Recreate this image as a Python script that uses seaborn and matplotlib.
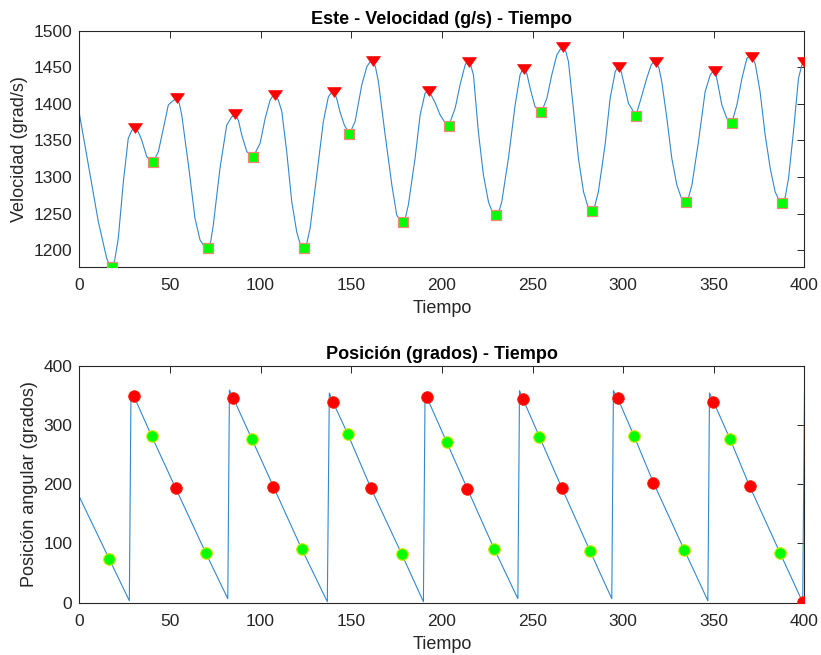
import numpy as np
import pandas as pd
import seaborn as sns
import matplotlib.pyplot as plt
from matplotlib.path import Path

# ---- angular velocity trace (time, grad/s) ----
vel_t = [0, 5.0, 10.5, 15.1, 16.5, 18.0, 19.5, 21.5, 24.3, 27.0, 29.0, 30.7, 32.5, 34.4, 37.2,
         40.7, 43.6, 46.4, 49.1, 51.5, 53.9, 55.2, 56.5, 60.2, 63.8, 66.6, 68.8, 71.0, 72.5,
         73.9, 77.6, 81.3, 84.0, 86.1, 87.8, 89.6, 92.4, 96.0, 99.7, 102.5, 105.2, 106.5,
         108.0, 109.8, 111.7, 114.4, 117.2, 119.9, 122.0, 124.0, 125.5, 127.3, 131.0, 134.6,
         137.4, 139.0, 140.7, 142.2, 143.8, 146.2, 149.0, 152.1, 155.8, 158.6, 160.3, 161.9,
         163.4, 165.0, 168.7, 172.4, 175.1, 177.0, 178.8, 180.0, 181.5, 185.2, 188.0, 190.7,
         192.8, 196.2, 199.0, 201.8, 203.8, 207.3, 210.0, 212.8, 213.8, 214.8, 216.0, 217.4,
         220.1, 222.9, 225.7, 228.0, 230.1, 231.5, 233.0, 236.7, 240.4, 243.1, 244.3, 245.5,
         247.0, 248.7, 251.4, 254.9, 257.9, 260.6, 263.4, 265.2, 266.9, 268.4, 269.8, 272.5,
         275.3, 278.1, 280.8, 282.0, 283.0, 284.5, 286.3, 290.0, 292.8, 295.6, 296.7, 297.8,
         299.0, 300.2, 302.9, 307.0, 309.3, 313.0, 315.4, 316.8, 318.2, 319.7, 321.3, 324.1,
         326.8, 329.6, 332.0, 334.5, 336.0, 337.9, 341.5, 345.2, 348.0, 349.4, 350.7, 352.0,
         354.4, 357.2, 359.9, 362.7, 365.5, 368.2, 369.6, 371.0, 372.8, 375.5, 378.3, 381.1,
         383.8, 386.0, 387.7, 389.4, 391.2, 393.9, 396.7, 398.5, 400.0]
vel_v = [1387, 1316.5, 1239, 1189, 1181, 1177.2, 1186, 1216.4, 1293.7, 1353, 1364, 1367, 1362,
         1350.7, 1327.9, 1320.2, 1334.7, 1366.7, 1398.5, 1404, 1407.7, 1400, 1384.8, 1316.5,
         1243.7, 1214, 1206, 1203.6, 1212, 1234.6, 1312, 1371, 1382, 1385.8, 1377, 1357.5,
         1334.7, 1327.9, 1346, 1380, 1405, 1410, 1412, 1405, 1389.4, 1334.7, 1266, 1225.4,
         1207, 1203.6, 1210, 1230, 1302.9, 1375.7, 1409.8, 1415, 1416.7, 1405, 1389, 1371,
         1358.9, 1375.7, 1425.8, 1450.8, 1457, 1458.6, 1450, 1430, 1357.5, 1289, 1248, 1241,
         1239, 1246, 1262, 1325.7, 1384.8, 1414.5, 1418, 1402, 1385, 1374, 1370.2, 1394,
         1425.8, 1453, 1457, 1457.7, 1452, 1439.5, 1362, 1303, 1266, 1251, 1248.2, 1253, 1266,
         1325.7, 1398.5, 1439.5, 1446, 1447.7, 1440, 1421, 1396, 1388.5, 1407.6, 1439.5,
         1466.8, 1474, 1477.3, 1471, 1457.7, 1394, 1325.7, 1280, 1257.4, 1255, 1253.7, 1262,
         1280, 1343.9, 1407.7, 1444, 1449, 1450.8, 1443, 1430, 1400.8, 1383.9, 1403, 1435,
         1453, 1457, 1457.7, 1449, 1430, 1380, 1325.7, 1289, 1272, 1266.4, 1272, 1289, 1348,
         1416.7, 1439.5, 1444, 1445, 1430, 1398.5, 1380, 1373.9, 1398.5, 1435, 1462, 1465, 1464,
         1455, 1416.7, 1357.5, 1312, 1280, 1268, 1264.2, 1273, 1298.4, 1362, 1435, 1453, 1456.8]

# local maxima / minima of the velocity
peak_t = [30.7, 53.9, 86.1, 108.0, 140.7, 161.9, 192.8, 214.8, 245.5, 266.9, 297.8, 318.2,
          350.7, 371.0, 400.0]
peak_v = [1367, 1407.7, 1385.8, 1412, 1416.7, 1458.6, 1418, 1457.7, 1447.7, 1477.3, 1450.8,
          1457.7, 1445, 1464, 1456.8]
trough_t = [18.0, 40.7, 71.0, 96.0, 124.0, 149.0, 178.8, 203.8, 230.1, 254.9, 283.0, 307.0,
            334.5, 359.9, 387.7]
trough_v = [1177.2, 1320.2, 1203.6, 1327.9, 1203.6, 1358.9, 1239, 1370.2, 1248.2, 1388.5,
            1253.7, 1383.9, 1266.4, 1373.9, 1264.2]

# ---- angular position (degrees), sawtooth vertices ----
pos_t = [0, 27.6, 28.5, 81.9, 82.8, 136.8, 137.9, 189.8, 190.7, 241.9, 242.8, 293.7, 294.6,
         346.7, 347.6, 399.0, 400.0]
pos_v = [178.9, 3.4, 355, 6.8, 359, 1.7, 354, 1.7, 355, 6.8, 358, 6.8, 358, 3.4, 354, 0.7, 354]

# position at the velocity maxima / minima
pos_peak_t = [30.0, 53.2, 85.0, 107.1, 139.8, 160.9, 191.7, 214.1, 244.8, 266.1, 297.0, 316.7,
              349.8, 369.7, 399.0]
pos_peak_v = [349.4, 193.0, 345.0, 195.8, 339.3, 193.0, 346.7, 191.9, 343.3, 194.1, 345.0,
              202.5, 339.3, 197.0, 0.7]
pos_trough_t = [16.6, 39.9, 69.7, 95.1, 122.7, 148.1, 177.9, 202.7, 228.8, 253.8, 281.8, 306.0,
                333.8, 359.0, 386.6]
pos_trough_v = [73.2, 281.3, 84.4, 276.8, 90.6, 284.7, 81.7, 270.7, 91.1, 280.2, 86.7, 281.3,
                88.4, 275.8, 83.4]

sns.set_theme(style="white")
plt.rcParams['font.family'] = ['Liberation Sans', 'DejaVu Sans']

LINE = '#3388CC'
AXC = '#262626'

vel_df = pd.DataFrame({'t': vel_t, 'v': vel_v}).sort_values('t', kind='stable')
pos_df = pd.DataFrame({'t': pos_t + pos_peak_t + pos_trough_t,
                       'v': pos_v + pos_peak_v + pos_trough_v}).sort_values('t', kind='stable')

# wide, flat downward triangle like MATLAB's 'v'
tri = Path([(-1.0, 0.7), (1.0, 0.7), (0.0, -0.7), (-1.0, 0.7)],
           [Path.MOVETO, Path.LINETO, Path.LINETO, Path.CLOSEPOLY])

fig = plt.figure(figsize=(8.21, 6.55), dpi=100)
ax1 = fig.add_axes([0.0966, 0.5924, 0.8833, 0.3608])
ax2 = fig.add_axes([0.0966, 0.0798, 0.8833, 0.3618])

sns.lineplot(data=vel_df, x='t', y='v', ax=ax1, color=LINE, linewidth=0.8,
             estimator=None, sort=False)
sns.scatterplot(x=peak_t, y=peak_v, ax=ax1, marker=tri, s=100, color='#FF0000',
                edgecolor='#FF0000', linewidth=0.5, zorder=3)
sns.scatterplot(x=trough_t, y=trough_v, ax=ax1, marker='s', s=62, color='#00FF00',
                edgecolor='#F08878', linewidth=0.9, zorder=3)

sns.lineplot(data=pos_df, x='t', y='v', ax=ax2, color=LINE, linewidth=0.8,
             estimator=None, sort=False)
sns.scatterplot(x=pos_peak_t, y=pos_peak_v, ax=ax2, marker='o', s=70, color='#FF0000',
                edgecolor='#FF2000', linewidth=0.6, zorder=3)
sns.scatterplot(x=pos_trough_t, y=pos_trough_v, ax=ax2, marker='o', s=70, color='#00FF00',
                edgecolor='#D8E800', linewidth=0.8, zorder=3)

ax1.set_ylim(1177.2, 1500)
ax1.set_yticks(np.arange(1200, 1501, 50))
ax2.set_ylim(0, 400)
ax2.set_yticks(np.arange(0, 401, 100))

titles = ['Este - Velocidad (g/s) - Tiempo', 'Posición (grados) - Tiempo']
ylabels = ['Velocidad (grad/s)', 'Posición angular (grados)']
for ax, ttl, yl in zip((ax1, ax2), titles, ylabels):
    ax.set_xlim(0, 400)
    ax.set_xticks(np.arange(0, 401, 50))
    ax.set_title(ttl, fontsize=13, fontweight='bold', color='black', pad=5)
    ax.set_xlabel('Tiempo', fontsize=13, color=AXC, labelpad=5)
    ax.set_ylabel(yl, fontsize=13, color=AXC, labelpad=4)
    ax.tick_params(direction='in', top=True, right=True, length=5, width=0.7,
                   color=AXC, labelcolor=AXC, labelsize=12.5)
    ax.tick_params(axis='x', pad=8)
    ax.tick_params(axis='y', pad=5)
    for sp in ax.spines.values():
        sp.set_color(AXC)
        sp.set_linewidth(0.8)
    ax.grid(False)

fig.savefig('out.png', dpi=100, facecolor='white')
